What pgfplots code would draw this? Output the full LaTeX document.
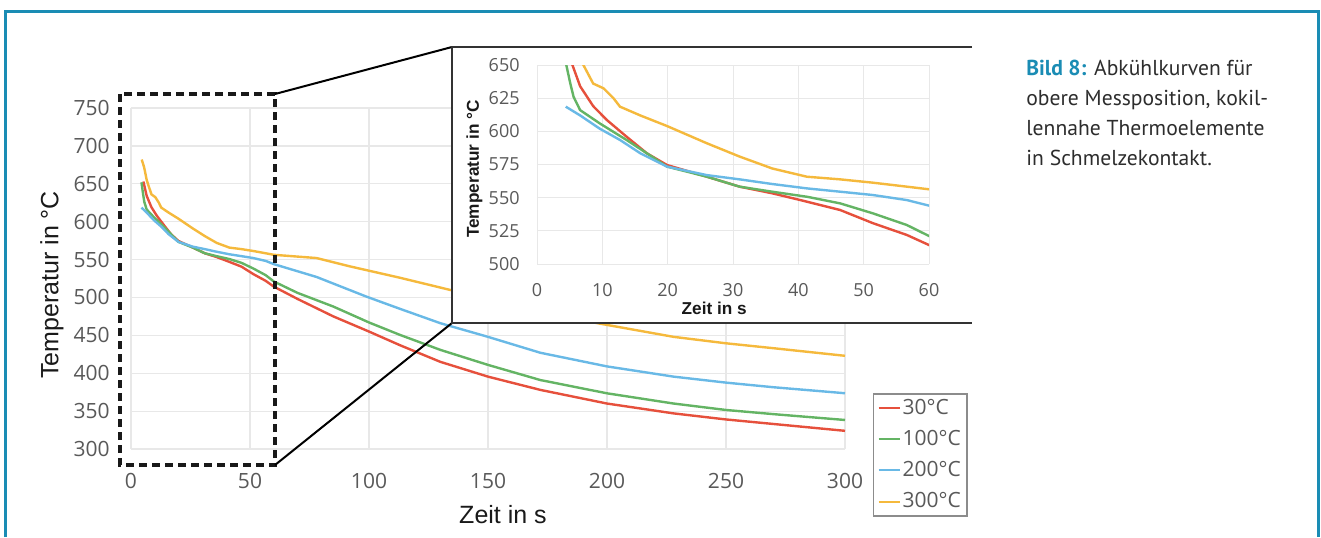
\documentclass[border=0pt]{standalone}
\usepackage{pgfplots}
\usepackage{pgfplotstable}
\pgfplotsset{compat=1.18}
\usepackage{fontspec}
\setmainfont{Open Sans}
\newfontfamily\arialf{Liberation Sans}
\newfontfamily\ptsans{PT Sans}
\definecolor{framecol}{RGB}{26,140,180}
\definecolor{tickgray}{RGB}{89,89,89}
\definecolor{gridgray}{RGB}{232,232,232}
\definecolor{legendgray}{RGB}{140,140,140}
\definecolor{captext}{RGB}{45,45,45}
\definecolor{cred}{RGB}{230,80,60}
\definecolor{cgreen}{RGB}{100,180,100}
\definecolor{cblue}{RGB}{105,185,230}
\definecolor{cyellow}{RGB}{245,185,60}

\pgfplotstableread{
t T
5.2 653
6.6 634
8.6 619
10.7 608.5
13.7 596
16.8 583.5
19.9 574.6
26 565.8
31 558.3
36 553.3
40.3 548.2
46.4 540.7
51.4 530.8
56.6 521.9
60 514.3
70 498
85 475
100 455
113 437
130 415
150 395.5
172 378
200 360
228 347
250 339
270 333
300 324
}\redT
\pgfplotstableread{
t T
4.4 652
5.1 636
5.6 626
6.6 616
9.6 606
13.7 593.5
16.8 583.5
19.9 573.4
26 565.8
31 558.3
36 554.5
41.3 550.7
46.4 545.7
51.4 538.2
56.6 529.4
60 521.1
70 506
85 488
100 467
113 450.6
130 430.8
150 411
172 391
200 373.5
228 360
250 351.5
270 346
300 338.3
}\greenT
\pgfplotstableread{
t T
4.4 618.6
6.6 612
9.6 602
12.7 593.5
15.8 583.5
19.9 573.4
26 567
31 563.8
36 560.3
41.3 557
46.4 554.5
51.4 552
56.6 548.2
60 544
78 527
99 501
113 485
130 466
150 448
172 427
200 409
228 395.5
250 387.6
270 381.5
300 373.6
}\blueT
\pgfplotstableread{
t T
4.5 682
5.5 672
6.6 655
7.1 650
8.6 636
10.2 632.4
11.7 625
12.7 618.6
15.8 612
19.9 604
26 591
31 581
36 572
41.3 565.8
46.4 563.8
51.4 561.3
56.6 558.3
60 556.3
78 552
92 541
113 526
134 510
150 498
175 480
196 466
228 448
250 439.5
270 433
300 423
}\yellowT

\pgfplotsset{
  curve/.style={line width=1.2pt, no markers},
}

\begin{document}
\begin{tikzpicture}
% ---------------- main axis ----------------
\begin{axis}[
  scale only axis, width=357pt, height=170.5pt,
  at={(65.5pt,44pt)}, anchor=south west,
  xmin=0, xmax=300, ymin=300, ymax=750,
  xtick={0,50,...,300}, ytick={300,350,...,750},
  axis line style={draw=none}, major tick length=0pt,
  grid=major, major grid style={draw=gridgray, line width=0.6pt},
  /pgf/number format/assume math mode=true,
  tick label style={font=\fontsize{10.5}{12}\selectfont, text=tickgray, inner sep=0pt},
  yticklabel style={anchor=east, xshift=-10.5pt},
  xticklabel style={anchor=north, yshift=-12pt},
  xlabel={Zeit in s},
  ylabel={Temperatur in °C},
  label style={font=\arialf\fontsize{12.5}{14}\selectfont, text=black!90, inner sep=0pt},
  xlabel style={at={(axis description cs:0.521,0)}, anchor=north, yshift=-28pt},
  ylabel style={at={(axis description cs:0,0.481)}, anchor=center, yshift=39.5pt},
  legend style={at={(axis description cs:1.039,0.164)}, anchor=north west,
    draw=legendgray, line width=0.8pt, inner xsep=2pt, inner ysep=1.5pt,
    font=\fontsize{10.5}{12}\selectfont, text=tickgray, row sep=4.5pt,
    nodes={inner sep=1pt}},
  legend cell align=left,
  legend image code/.code={\draw[#1, line width=1pt] (0pt,0pt) -- (10.5pt,0pt);},
]
\addplot[curve, cred] table[x=t, y=T] {\redT};
\addplot[curve, cgreen] table[x=t, y=T] {\greenT};
\addplot[curve, cblue] table[x=t, y=T] {\blueT};
\addplot[curve, cyellow] table[x=t, y=T] {\yellowT};
\legend{30°C,100°C,200°C,300°C}
\end{axis}

% dashed zoom rectangle and connector lines
\draw[black!90, line width=1.6pt, dash pattern=on 4pt off 2.5pt]
  (60pt,221.5pt) rectangle (137.5pt,36pt);
\draw[black, line width=1pt] (137.5pt,221.5pt) -- (226pt,245pt);
\draw[black, line width=1pt] (137.5pt,36pt) -- (226pt,107pt);

% inset box
\fill[white] (226pt,107pt) rectangle (486pt,245pt);
\draw[black!80, line width=1pt] (486pt,245pt) -- (226pt,245pt) -- (226pt,107pt) -- (486pt,107pt);

% ---------------- inset axis ----------------
\begin{axis}[
  scale only axis, width=196pt, height=99.5pt,
  at={(268.5pt,136.5pt)}, anchor=south west,
  xmin=0, xmax=60, ymin=500, ymax=650,
  xtick={0,10,...,60}, ytick={500,525,...,650},
  axis line style={draw=none}, major tick length=0pt,
  grid=major, major grid style={draw=gridgray, line width=0.5pt},
  /pgf/number format/assume math mode=true,
  tick label style={font=\fontsize{9}{10}\selectfont, text=tickgray, inner sep=0pt},
  yticklabel style={anchor=east, xshift=-8.5pt},
  xticklabel style={anchor=north, yshift=-9.5pt},
  xlabel={Zeit in s},
  ylabel={Temperatur in °C},
  label style={font=\arialf\bfseries\fontsize{8.6}{10}\selectfont, text=black!90, inner sep=0pt},
  xlabel style={at={(axis description cs:0.452,0)}, anchor=north, yshift=-19pt},
  ylabel style={at={(axis description cs:0,0.477)}, anchor=center, yshift=31.25pt},
]
\addplot[curve, cred] table[x=t, y=T] {\redT};
\addplot[curve, cgreen] table[x=t, y=T] {\greenT};
\addplot[curve, cblue] table[x=t, y=T] {\blueT};
\addplot[curve, cyellow] table[x=t, y=T] {\yellowT};
\end{axis}

% frame
\draw[framecol, line width=1.5pt] (2.5pt,0pt) -- (2.5pt,262.5pt) -- (659pt,262.5pt) -- (659pt,0pt);

% caption
\node[anchor=north west, align=left, inner sep=0pt, text=captext,
  font=\ptsans\fontsize{10.8}{15}\selectfont] at (513pt,238.75pt)
  {\textbf{\color{framecol}Bild 8:} Abkühlkurven für\\obere Messposition, kokil-\\lennahe Thermoelemente\\in Schmelzekontakt.};

\pgfresetboundingbox
\useasboundingbox (0pt,0pt) rectangle (660.5pt,268.5pt);
\end{tikzpicture}
\end{document}
